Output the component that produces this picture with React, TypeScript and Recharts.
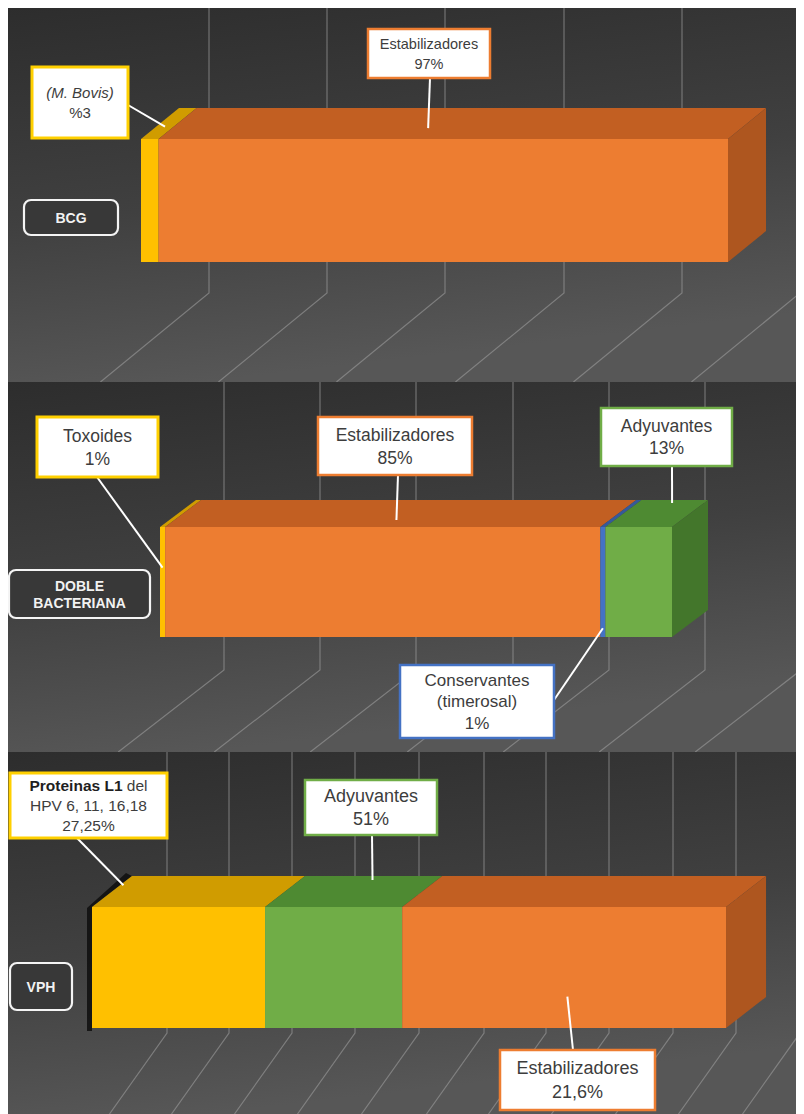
import React from 'react';
import { BarChart, Bar, XAxis, YAxis, Customized } from 'recharts';

const FONT = '"Liberation Sans", Arial, Helvetica, sans-serif';

// ---------- Data ----------
type Run = { t: string; i?: boolean; b?: boolean };
type Lines = Run[][];

const CATEGORIES = ['BCG', 'DOBLE BACTERIANA', 'VPH'];

const BCG_SEGMENTS = ['M. Bovis', 'Estabilizadores'];
const BCG_VALUES = [3, 97];
const BCG_KINDS = ['antigen', 'stabilizer'];
const BCG_LABELS: Lines[] = [
  [[{ t: '(M. Bovis)', i: true }], [{ t: '%3' }]],
  [[{ t: 'Estabilizadores' }], [{ t: '97%' }]],
];

const DOBLE_SEGMENTS = ['Toxoides', 'Estabilizadores', 'Conservantes', 'Adyuvantes'];
const DOBLE_VALUES = [1, 85, 1, 13];
const DOBLE_KINDS = ['antigen', 'stabilizer', 'preservative', 'adjuvant'];
const DOBLE_LABELS: Lines[] = [
  [[{ t: 'Toxoides' }], [{ t: '1%' }]],
  [[{ t: 'Estabilizadores' }], [{ t: '85%' }]],
  [[{ t: 'Conservantes' }], [{ t: '(timerosal)' }], [{ t: '1%' }]],
  [[{ t: 'Adyuvantes' }], [{ t: '13%' }]],
];

const VPH_SEGMENTS = ['Proteinas L1', 'Adyuvantes', 'Estabilizadores'];
const VPH_VALUES = [27.25, 21.6, 51];
const VPH_KINDS = ['antigen', 'adjuvant', 'stabilizer'];
const VPH_LABELS: Lines[] = [
  [[{ t: 'Proteinas L1', b: true }, { t: ' del' }], [{ t: 'HPV 6, 11, 16,18' }], [{ t: '27,25%' }]],
  [[{ t: 'Adyuvantes' }], [{ t: '51%' }]],
  [[{ t: 'Estabilizadores' }], [{ t: '21,6%' }]],
];

// ---------- Styles / layout ----------
const PALETTE: Record<string, { front: string; top: string; side: string; border: string }> = {
  antigen: { front: '#FFC000', top: '#D09C00', side: '#B38600', border: '#FFD000' },
  stabilizer: { front: '#ED7D31', top: '#C25F22', side: '#AE561F', border: '#ED7D31' },
  preservative: { front: '#4472C4', top: '#36599A', side: '#2F4F8A', border: '#4472C4' },
  adjuvant: { front: '#70AD47', top: '#4E8A32', side: '#43762B', border: '#70AD47' },
};

const W = 799;

const PANELS: any[] = [
  {
    id: 'p1', h: 374, left: 136, right: 76, top: 101, bottom: 90, barH: 123, depth: [38, 31],
    grid: [204, 322, 440, 559, 677, 795], bendY: 285, slope: -1.22,
    cat: { x: 19, w: 94, h: 35, dy: 17 },
    labels: [
      { box: [27, 59, 96, 71], from: [123, 97], fx: 0.5, d: 0.4, fy: 0, fs: 15, lh: 20, bw: 3 },
      { box: [363, 21, 122, 49], from: [425, 70], fx: 0.45, d: 0.35, fy: 0, fs: 14.5, lh: 20, bw: 2.5 },
    ],
  },
  {
    id: 'p2', h: 370, left: 155, right: 132, top: 115, bottom: 85, barH: 110, depth: [36, 27],
    grid: [219, 315, 411, 508, 604, 700, 796], bendY: 288, slope: -1.29,
    cat: { x: 4, w: 141, h: 48, dy: 12 },
    labels: [
      { box: [32, 35, 121, 60], from: [92, 95], fx: 0.5, d: 0, fy: 0.37, fs: 17.5, lh: 23, bw: 3 },
      { box: [313, 35, 154, 58], from: [393, 93], fx: 0.51, d: 0.26, fy: 0, fs: 17.5, lh: 23, bw: 2.5 },
      { box: [395, 283, 154, 73], from: [549, 318], fx: 0.5, d: 0, fy: 0.92, fs: 17, lh: 21.5, bw: 2.5 },
      { box: [596, 26, 131, 58], from: [667, 84], fx: 0.52, d: 0.89, fy: 0, fs: 17.5, lh: 22, bw: 2.5 },
    ],
  },
  {
    id: 'p3', h: 362, left: 87, right: 77, top: 125, bottom: 56, barH: 121, depth: [40, 31],
    grid: [162, 224, 287, 350, 414, 479, 541, 604, 668, 731, 795], bendY: 281, slope: -0.71,
    cat: { x: 5, w: 62, h: 47, dy: 19 }, shadow: true,
    labels: [
      { box: [5, 21, 157, 65], from: [72, 86], fx: 0.02, d: 0.7, fy: 0, fs: 15.5, lh: 20, bw: 3 },
      { box: [300, 28, 132, 55], from: [367, 83], fx: 0.53, d: 0.87, fy: 0, fs: 18, lh: 23, bw: 2.5 },
      { box: [495, 298, 155, 60], from: [568, 298], fx: 0.51, d: 0, fy: 0.74, fs: 18, lh: 24, bw: 2.5 },
    ],
  },
];

// ---------- Components ----------
function Backdrop({ cfg }: any) {
  const H = cfg.h;
  return (
    <g>
      <defs>
        <linearGradient id={'bg-' + cfg.id} x1="0" y1="0" x2="0.25" y2="1">
          <stop offset="0" stopColor="#2d2d2d" />
          <stop offset="0.55" stopColor="#404040" />
          <stop offset="1" stopColor="#575757" />
        </linearGradient>
      </defs>
      <rect x={0} y={0} width={W} height={H} fill={'url(#bg-' + cfg.id + ')'} />
      {cfg.grid.map((gx: number, i: number) => (
        <path
          key={i}
          d={`M${gx},0 L${gx},${cfg.bendY} L${gx + cfg.slope * (H - cfg.bendY)},${H}`}
          fill="none"
          stroke="#9c9c9c"
          strokeOpacity={0.6}
          strokeWidth={1.2}
        />
      ))}
    </g>
  );
}

function CatTick(props: any) {
  const { y, payload, cfg } = props;
  const b = cfg.cat;
  const cy = y + b.dy;
  const words = String(payload.value).split(' ');
  const lh = 17;
  return (
    <g>
      <rect x={b.x} y={cy - b.h / 2} width={b.w} height={b.h} rx={7} ry={7} fill="#383838" stroke="#f4f4f4" strokeWidth={2.2} />
      <text textAnchor="middle" fontFamily={FONT} fontWeight="bold" fontSize={14} fill="#f2f2f2">
        {words.map((w, i) => (
          <tspan key={i} x={b.x + b.w / 2} y={cy - ((words.length - 1) * lh) / 2 + i * lh + 5}>
            {w}
          </tspan>
        ))}
      </text>
    </g>
  );
}

function Callout({ lc, lines, color, tx, ty }: any) {
  const [bx, by, bw, bh] = lc.box;
  const n = lines.length;
  const cy = by + bh / 2;
  const start = cy - ((n - 1) * lc.lh) / 2;
  return (
    <g>
      <line x1={lc.from[0]} y1={lc.from[1]} x2={tx} y2={ty} stroke="#ffffff" strokeWidth={2} />
      <rect x={bx} y={by} width={bw} height={bh} fill="#ffffff" stroke={color} strokeWidth={lc.bw} />
      <text textAnchor="middle" fontFamily={FONT} fontSize={lc.fs} fill="#3d3d3d">
        {lines.map((ln: Run[], li: number) => (
          <tspan key={li} x={bx + bw / 2} y={start + li * lc.lh + lc.fs * 0.35}>
            {ln.map((r, ri) => (
              <tspan key={ri} fontStyle={r.i ? 'italic' : 'normal'} fontWeight={r.b ? 'bold' : 'normal'} fill={r.b ? '#1f1f1f' : '#3d3d3d'}>
                {r.t}
              </tspan>
            ))}
          </tspan>
        ))}
      </text>
    </g>
  );
}

function Box3D(props: any) {
  const { x, y, width, height, cfg, kind, isLast, isFirst, lines, lc } = props;
  if (width == null || height == null) return null;
  const [dx, dy] = cfg.depth;
  const c = PALETTE[kind];
  const top = `${x},${y} ${x + width},${y} ${x + width + dx},${y - dy} ${x + dx},${y - dy}`;
  const side = `${x + width},${y} ${x + width + dx},${y - dy} ${x + width + dx},${y + height - dy} ${x + width},${y + height}`;
  const tx = x + lc.fx * width + lc.d * dx;
  const ty = y - lc.d * dy + lc.fy * height;
  return (
    <g>
      {isFirst && cfg.shadow && (
        <polygon
          points={`${x - 5},${y + height + 3} ${x - 5},${y + 1} ${x + dx - 6},${y - dy - 3} ${x + dx},${y - dy} ${x},${y} ${x},${y + height + 3}`}
          fill="#0e0e0e"
          opacity={0.85}
        />
      )}
      <polygon points={top} fill={c.top} />
      {isLast && <polygon points={side} fill={c.side} />}
      <rect x={x} y={y} width={width} height={height} fill={c.front} />
      {lines && <Callout lc={lc} lines={lines} color={c.border} tx={tx} ty={ty} />}
    </g>
  );
}

function Panel({ cfg, name, segments, values, kinds, labels }: any) {
  const row: any = { name };
  values.forEach((v: number, i: number) => {
    row['s' + i] = v;
  });
  const data = [row];
  return (
    <BarChart
      width={W}
      height={cfg.h}
      data={data}
      layout="vertical"
      margin={{ top: cfg.top, right: cfg.right, bottom: cfg.bottom, left: 0 }}
      barCategoryGap="0%"
      barGap={0}
      style={{ display: 'block' }}
    >
      <Customized component={<Backdrop cfg={cfg} />} />
      <XAxis type="number" domain={[0, 100]} hide />
      <YAxis type="category" dataKey="name" width={cfg.left} axisLine={false} tickLine={false} tick={<CatTick cfg={cfg} />} />
      {values.map((_: number, i: number) => (
        <Bar
          key={i}
          name={segments[i]}
          dataKey={'s' + i}
          stackId="a"
          barSize={cfg.barH}
          isAnimationActive={false}
          shape={(p: any) => (
            <Box3D
              {...p}
              cfg={cfg}
              kind={kinds[i]}
              isLast={i === values.length - 1}
              isFirst={i === 0}
              lines={labels[i]}
              lc={cfg.labels[i]}
            />
          )}
        />
      ))}
    </BarChart>
  );
}

export default function App() {
  return (
    <div style={{ marginLeft: -3, width: W, lineHeight: 0 }}>
      <Panel cfg={PANELS[0]} name={CATEGORIES[0]} segments={BCG_SEGMENTS} values={BCG_VALUES} kinds={BCG_KINDS} labels={BCG_LABELS} />
      <Panel cfg={PANELS[1]} name={CATEGORIES[1]} segments={DOBLE_SEGMENTS} values={DOBLE_VALUES} kinds={DOBLE_KINDS} labels={DOBLE_LABELS} />
      <Panel cfg={PANELS[2]} name={CATEGORIES[2]} segments={VPH_SEGMENTS} values={VPH_VALUES} kinds={VPH_KINDS} labels={VPH_LABELS} />
    </div>
  );
}
